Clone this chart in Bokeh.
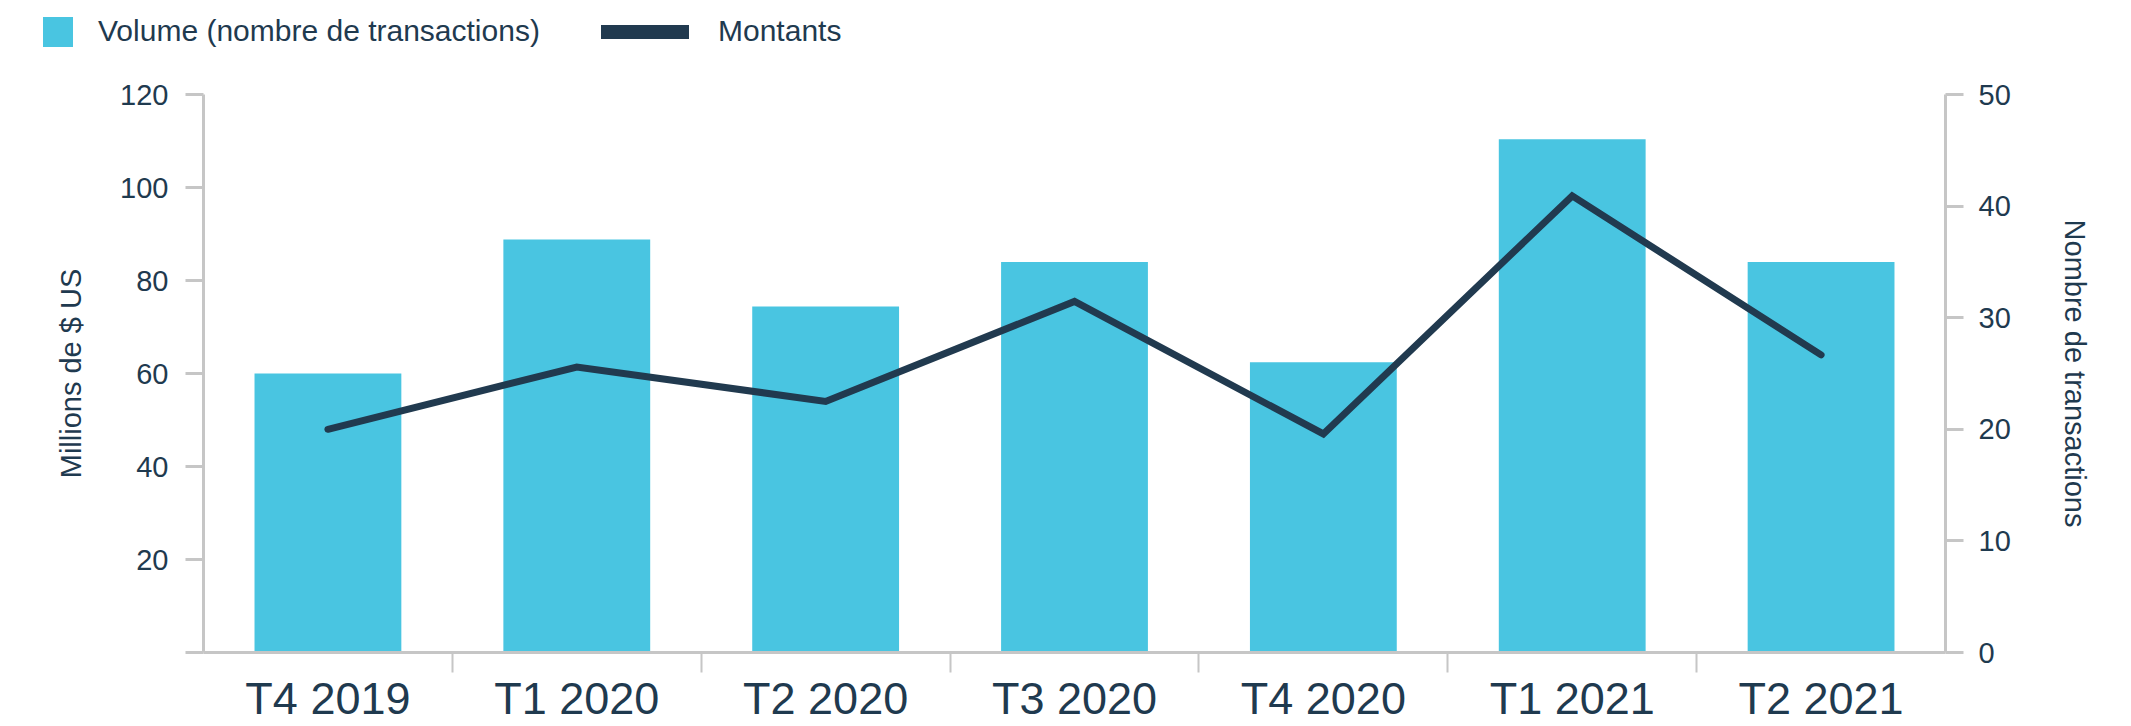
from bokeh.plotting import figure
from bokeh.layouts import column
from bokeh.models import Range1d, LinearAxis, FixedTicker, ColumnDataSource, Div
from bokeh.embed import file_html
from bokeh.resources import INLINE

categories = ["T4 2019", "T1 2020", "T2 2020", "T3 2020", "T4 2020", "T1 2021", "T2 2021"]
volume = [25, 37, 31, 35, 26, 46, 35]            # nombre de transactions (axe droit)
montants = [48, 61.4, 54, 75.5, 47, 98.2, 64]    # millions de $ US (axe gauche)
left_ticks = [0, 20, 40, 60, 80, 100, 120]
right_ticks = [0, 10, 20, 30, 40, 50]
series_labels = ["Volume (nombre de transactions)", "Montants"]

FONT = "Liberation Sans"
TEXT = "#1F3A4F"
GREY = "#C6C6C6"
CYAN = "#49C5E1"
NAVY = "#213A4F"

W = 2131
LEG_H = 60
idx = list(range(len(categories)))
src = ColumnDataSource(dict(x=idx, cat=categories, volume=volume, montants=montants))

# ---------- legend strip (HTML text) ----------
txt = (f"position:absolute;top:16px;line-height:30px;font-family:'{FONT}';"
       f"font-size:30px;color:{TEXT};white-space:nowrap;")
legend_html = (
    f'<div style="position:relative;width:{W}px;height:{LEG_H}px;">'
    f'<span style="position:absolute;left:43px;top:17px;width:30px;height:30px;background:{CYAN};"></span>'
    f'<span style="{txt}left:98px;">{series_labels[0]}</span>'
    f'<span style="position:absolute;left:601px;top:25px;width:88px;height:14px;background:{NAVY};"></span>'
    f'<span style="{txt}left:718px;">{series_labels[1]}</span>'
    f'</div>'
)
legend_div = Div(text=legend_html, width=W, height=LEG_H, margin=0)

# ---------- main chart ----------
p = figure(width=W, height=726 - LEG_H, output_backend="svg", toolbar_location=None,
           x_range=Range1d(-0.5, len(categories) - 0.5),
           y_range=Range1d(left_ticks[0], left_ticks[-1]),
           min_border_left=203, min_border_right=186, min_border_top=94 - LEG_H,
           min_border_bottom=68, margin=0)
p.extra_y_ranges = {"count": Range1d(right_ticks[0], right_ticks[-1])}
p.outline_line_color = None
p.xgrid.visible = False
p.ygrid.visible = False
p.background_fill_color = "white"
p.border_fill_color = "white"

bars = p.vbar(x="x", top="volume", width=0.59, source=src, y_range_name="count",
              fill_color=CYAN, line_color=None)
line = p.line(x="x", y="montants", source=src, line_width=7, line_color=NAVY,
              line_join="miter", line_cap="round")

xa = p.xaxis[0]
xa.ticker = FixedTicker(ticks=idx, minor_ticks=[i + 0.5 for i in idx[:-1]])
xa.major_label_overrides = {i: c for i, c in enumerate(categories)}
xa.axis_line_color = GREY
xa.axis_line_width = 3
xa.major_tick_line_color = None
xa.major_tick_out = 16
xa.major_tick_in = 0
xa.minor_tick_line_color = GREY
xa.minor_tick_line_width = 2
xa.minor_tick_out = 20
xa.minor_tick_in = 0
xa.major_label_standoff = 0
xa.major_label_text_font = FONT
xa.major_label_text_font_size = "45px"
xa.major_label_text_color = TEXT

def style_y(ax, label, standoff_title):
    ax.axis_label = label
    ax.axis_label_text_font = FONT
    ax.axis_label_text_font_size = "29px"
    ax.axis_label_text_font_style = "normal"
    ax.axis_label_text_color = TEXT
    ax.axis_label_standoff = standoff_title
    ax.axis_line_color = GREY
    ax.axis_line_width = 3
    ax.major_tick_line_color = GREY
    ax.major_tick_line_width = 3
    ax.major_tick_out = 18
    ax.major_tick_in = 0
    ax.minor_tick_line_color = None
    ax.major_label_text_font = FONT
    ax.major_label_text_font_size = "29px"
    ax.major_label_text_color = TEXT

ya = p.yaxis[0]
ya.ticker = FixedTicker(ticks=left_ticks)
ya.major_label_overrides = {0: ""}
ya.major_label_standoff = 17
style_y(ya, "Millions de $ US", 30)

yr = LinearAxis(y_range_name="count", ticker=FixedTicker(ticks=right_ticks))
yr.major_label_standoff = 15
style_y(yr, "Nombre de transactions", 45)
p.add_layout(yr, "right")

layout = column(legend_div, p, spacing=0)
open("out.html", "w").write(file_html(layout, INLINE))
